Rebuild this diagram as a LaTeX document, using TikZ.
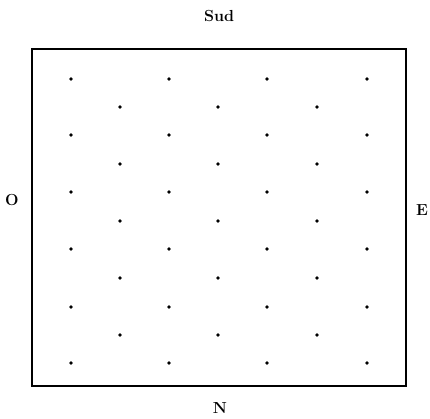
\documentclass[tikz,border=0pt]{standalone}
\usepackage{fontspec}
\begin{document}
\begin{tikzpicture}[x=1pt,y=1pt,
  lbl/.style={font=\fontsize{16}{18}\selectfont\bfseries, inner sep=0pt},
  frame/.style={draw=black, line width=1.3pt},
  pt/.style={circle, fill=black, inner sep=0pt, minimum size=3.6pt}]
\useasboundingbox (0,0) rectangle (430,419);
\draw[frame] (32,33) rectangle (406,370);
% odd rows (4 dots)
\foreach \r/\py in {1/79,3/135,5/192,7/249,9/307,11/363}{
  \foreach \c/\px in {1/71,2/169,3/267,4/367}{
    \node[pt] (d-\r-\c) at (\px,419-\py) {};
  }
}
% even rows (3 dots)
\foreach \r/\py in {2/107,4/164,6/221,8/278,10/335}{
  \foreach \c/\px in {1/120,2/218,3/317}{
    \node[pt] (d-\r-\c) at (\px,419-\py) {};
  }
}
\node[lbl] (sud) at (219,403) {Sud};
\node[lbl] (nord) at (220,11) {N};
\node[lbl] (ouest) at (12,219) {O};
\node[lbl] (est) at (422,209) {E};
\end{tikzpicture}
\end{document}
